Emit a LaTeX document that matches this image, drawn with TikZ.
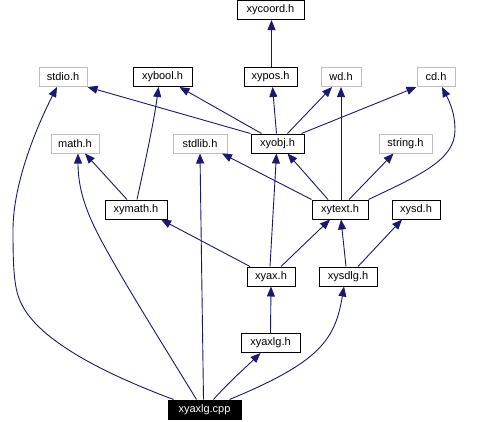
\documentclass[tikz,border=0pt]{standalone}
\usepackage{fontspec}
\setmainfont{Liberation Sans}
\usetikzlibrary{arrows.meta}
\definecolor{edgec}{HTML}{191970}
\definecolor{grayb}{HTML}{BFBFBF}
\begin{document}
\begin{tikzpicture}[x=1pt,y=-1pt,
  box/.style={draw=black,line width=1pt,fill=white,minimum height=19pt,inner sep=0pt,
    font=\fontsize{11}{13}\selectfont},
  gbox/.style={box,draw=grayb},
  rootbox/.style={box,fill=black,text=white},
  e/.style={draw=edgec,line width=0.9pt,-{Triangle[length=10pt,width=8pt]}}]
\useasboundingbox (0,0) rectangle (485,421);
% nodes
\node[box,minimum width=67pt] (xycoord) at (270.5,10) {xycoord.h};
\node[gbox,minimum width=48pt] (stdio) at (63,77) {stdio.h};
\node[box,minimum width=59pt] (xybool) at (162.5,77) {xybool.h};
\node[box,minimum width=53pt] (xypos) at (270.5,77) {xypos.h};
\node[gbox,minimum width=40pt] (wd) at (341,77) {wd.h};
\node[gbox,minimum width=38pt] (cd) at (436,77) {cd.h};
\node[gbox,minimum width=48pt] (math) at (75,143.5) {math.h};
\node[gbox,minimum width=54pt] (stdlib) at (200,143.5) {stdlib.h};
\node[box,minimum width=53pt] (xyobj) at (277.5,143.5) {xyobj.h};
\node[gbox,minimum width=53pt] (string) at (405.5,143.5) {string.h};
\node[box,minimum width=62pt] (xymath) at (136,209.5) {xymath.h};
\node[box,minimum width=56pt] (xytext) at (340,209.5) {xytext.h};
\node[box,minimum width=48pt] (xysd) at (416,209.5) {xysd.h};
\node[box,minimum width=48pt] (xyax) at (271,276.5) {xyax.h};
\node[box,minimum width=58pt] (xysdlg) at (348,276.5) {xysdlg.h};
\node[box,minimum width=59pt] (xyaxlg) at (270.5,343) {xyaxlg.h};
\node[rootbox,minimum width=73pt] (cpp) at (204.5,409.5) {xyaxlg.cpp};
% edges
\draw[e] ([xshift=1pt]xypos.north) -- ([xshift=1pt]xycoord.south);
\draw[e] (xyobj.north west) -- (stdio.south east);
\draw[e] ([xshift=-16pt]xyobj.north) -- ([xshift=17pt]xybool.south);
\draw[e] ([xshift=-1pt]xyobj.north) -- ([xshift=2pt]xypos.south);
\draw[e] ([xshift=10pt]xyobj.north) -- ([xshift=-9pt]wd.south);
\draw[e] ([xshift=24pt]xyobj.north) -- (cd.south west);
\draw[e] ([xshift=-9pt]xymath.north) -- ([xshift=10pt]math.south);
\draw[e] ([xshift=1pt]xymath.north) .. controls (143,172) and (154,122) .. ([xshift=-4pt]xybool.south);
\draw[e] (xytext.north west) -- ([xshift=22pt]stdlib.south);
\draw[e] ([xshift=-12pt]xytext.north) -- ([xshift=10pt]xyobj.south);
\draw[e] ([xshift=1pt]xytext.north) -- (wd.south);
\draw[e] ([xshift=9pt]xytext.north) -- ([xshift=-12pt]string.south);
\draw[e] (xytext.north east) .. controls (420,175) and (455,160) .. (455,130)
  .. controls (455,110) and (447,97) .. ([xshift=6pt]cd.south);
\draw[e] ([xshift=-21pt]xyax.north) -- ([xshift=25pt]xymath.south);
\draw[e] ([xshift=-1pt]xyax.north) -- ([xshift=-1pt]xyobj.south);
\draw[e] ([xshift=10pt]xyax.north) -- ([xshift=-10pt]xytext.south);
\draw[e] ([xshift=-2pt]xysdlg.north) -- ([xshift=1pt]xytext.south);
\draw[e] ([xshift=10pt]xysdlg.north) -- ([xshift=-14pt]xysd.south);
\draw[e] (xyaxlg.north) -- (xyax.south);
\draw[e] ([xshift=9pt]cpp.north) .. controls (228,383) and (245,368) .. ([xshift=-10pt]xyaxlg.south);
\draw[e] ([xshift=25pt]cpp.north) .. controls (320,362) and (335,340) .. ([xshift=-4pt]xysdlg.south);
\draw[e] ([xshift=-1pt]cpp.north) -- (stdlib.south);
\draw[e] ([xshift=-8pt]cpp.north) .. controls (160,340) and (135,300) .. (115,265)
  .. controls (95,230) and (78,200) .. ([xshift=3pt]math.south);
\draw[e] ([xshift=-31pt]cpp.north) .. controls (100,372) and (40,340) .. (22,305)
  .. controls (14,290) and (13,270) .. (13,230)
  .. controls (13,180) and (40,120) .. ([xshift=-6pt]stdio.south);
\end{tikzpicture}
\end{document}
